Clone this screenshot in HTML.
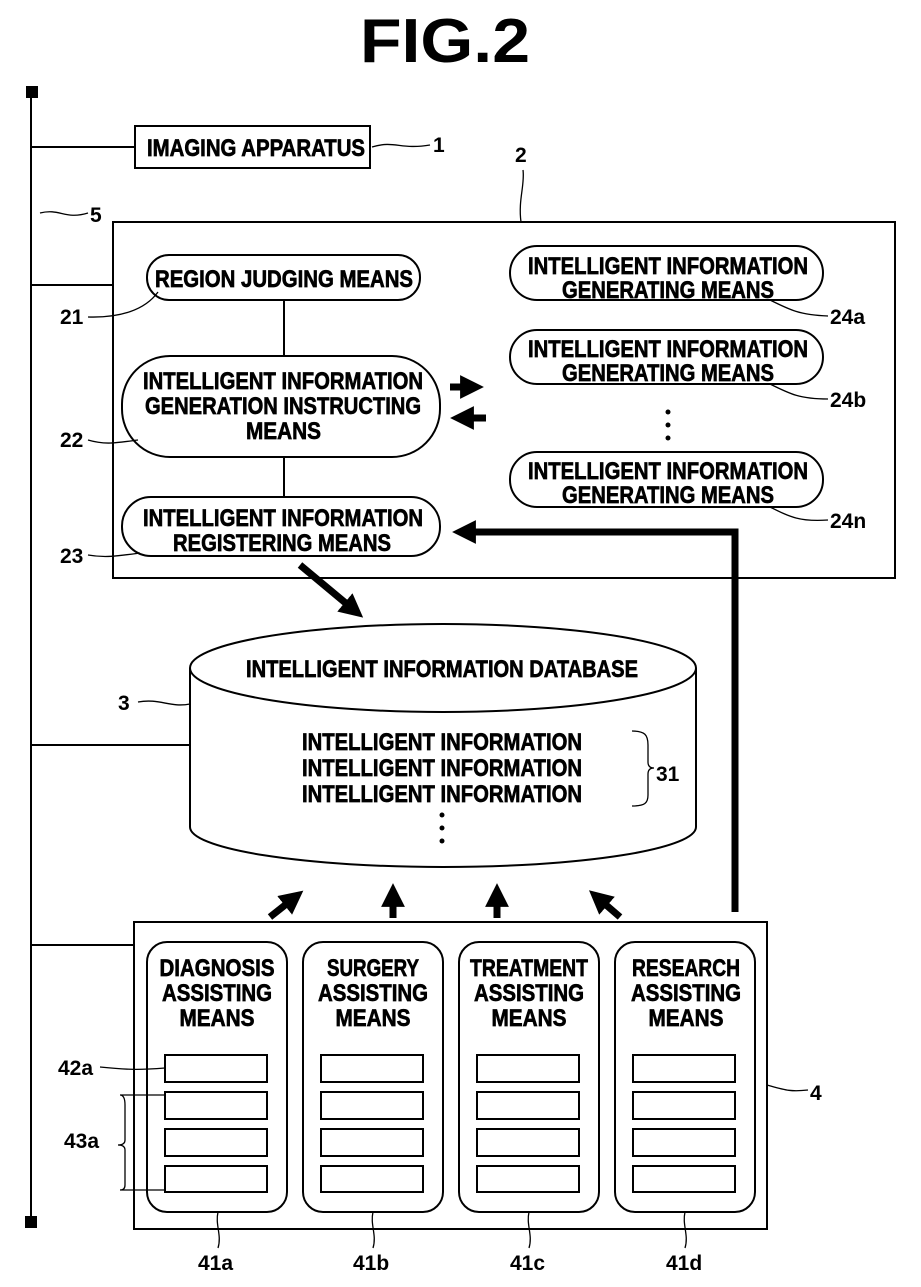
<!DOCTYPE html>
<html><head><meta charset="utf-8"><style>
html,body{margin:0;padding:0;background:#fff;}
svg{display:block;}
text{font-family:"Liberation Sans",sans-serif;font-weight:bold;fill:#000;}
.t text{font-size:24px;stroke:#000;stroke-width:0.7px;}
.n{font-size:21px;}
</style></head><body>
<svg width="921" height="1287" viewBox="0 0 921 1287" xmlns="http://www.w3.org/2000/svg">
<defs>
<marker id="ah" markerWidth="3.4" markerHeight="3.4" refX="1.7" refY="1.7" orient="auto" markerUnits="strokeWidth"><path d="M0,0 L3.4,1.7 L0,3.4 z" fill="#000"/></marker>
</defs>
<text x="445" y="62" font-size="62" text-anchor="middle" textLength="170" lengthAdjust="spacingAndGlyphs">FIG.2</text>
<g fill="none" stroke="#000" stroke-width="2">
<line x1="31" y1="92" x2="31" y2="1222"/>
<line x1="31" y1="147" x2="135" y2="147"/>
<line x1="31" y1="285" x2="113" y2="285"/>
<line x1="31" y1="745" x2="190" y2="745"/>
<line x1="31" y1="945" x2="134" y2="945"/>
<rect x="135" y="126" width="235" height="42"/>
<path d="M372,147 C395,140 400,150 430,145" stroke-width="1.3"/>
<path d="M40,213 C60,208 65,220 88,213" stroke-width="1.3"/>
<path d="M523,170 C525,185 518,200 521,222" stroke-width="1.3"/>
<rect x="113" y="222" width="782" height="356"/>
<rect x="147" y="255" width="273" height="45" rx="22"/>
<rect x="122" y="356" width="318" height="101" rx="48"/>
<rect x="122" y="497" width="318" height="59" rx="29"/>
<line x1="284" y1="300" x2="284" y2="356"/>
<line x1="284" y1="457" x2="284" y2="497"/>
<path d="M88,317 C120,318 145,310 158,292" stroke-width="1.3"/>
<path d="M88,440 C105,445 115,443 138,440" stroke-width="1.3"/>
<path d="M88,555 C105,558 118,556 140,553" stroke-width="1.3"/>
<rect x="510" y="246" width="313" height="54" rx="27"/>
<rect x="510" y="330" width="313" height="54" rx="27"/>
<rect x="510" y="452" width="313" height="55" rx="27"/>
<path d="M770,300 C790,310 800,315 828,316" stroke-width="1.3"/>
<path d="M770,384 C790,394 800,399 828,399" stroke-width="1.3"/>
<path d="M770,507 C790,517 800,522 828,520" stroke-width="1.3"/>
<path d="M190,668 L190,827 A253,40 0 0 0 696,827 L696,668"/>
<ellipse cx="443" cy="668" rx="253" ry="44"/>
<path d="M138,702 C160,698 170,708 190,704" stroke-width="1.3"/>
<path d="M632,731 C645,731 648,735 648,745 L648,762 Q648,768 654,768 Q648,768 648,774 L648,795 C648,803 645,806 632,806" stroke-width="1.3"/>
<rect x="134" y="922" width="633" height="307"/>
<path d="M767,1085 C785,1090 790,1092 808,1090" stroke-width="1.3"/>
<path d="M100,1067 C130,1070 140,1070 165,1068" stroke-width="1.3"/>
<path d="M120,1095 L165,1095 M120,1095 Q125,1095 125,1105 L125,1140 Q125,1145 118,1145 Q125,1145 125,1150 L125,1185 Q125,1190 120,1190 L165,1190" stroke-width="1.3"/>
</g>
<g fill="none" stroke="#000" stroke-width="2">
<rect x="147" y="942" width="140" height="270" rx="20"/>
<rect x="303" y="942" width="140" height="270" rx="20"/>
<rect x="459" y="942" width="140" height="270" rx="20"/>
<rect x="615" y="942" width="140" height="270" rx="20"/>
<g id="sb">
<rect x="165" y="1055" width="102" height="27"/>
<rect x="165" y="1092" width="102" height="27"/>
<rect x="165" y="1129" width="102" height="27"/>
<rect x="165" y="1166" width="102" height="26"/>
</g>
<use href="#sb" x="156"/>
<use href="#sb" x="312"/>
<use href="#sb" x="468"/>
<path d="M218,1212 C215,1225 222,1235 218,1248" stroke-width="1.3"/>
<path d="M373,1212 C370,1225 377,1235 373,1248" stroke-width="1.3"/>
<path d="M529,1212 C526,1225 533,1235 529,1248" stroke-width="1.3"/>
<path d="M685,1212 C682,1225 689,1235 685,1248" stroke-width="1.3"/>
</g>
<rect x="26" y="86" width="12" height="12" fill="#000"/>
<rect x="25" y="1216" width="12" height="12" fill="#000"/>
<g stroke="#000" stroke-width="7" fill="none" marker-end="url(#ah)">
<line x1="450" y1="387" x2="472" y2="387"/>
<line x1="486" y1="418" x2="462" y2="418"/>
<polyline points="735,912 735,532 464,532"/>
<line x1="300" y1="565" x2="354" y2="610"/>
<line x1="270" y1="917" x2="294" y2="898"/>
<line x1="393" y1="918" x2="393" y2="895"/>
<line x1="497" y1="918" x2="497" y2="895"/>
<line x1="620" y1="917" x2="598" y2="898"/>
</g>
<g fill="#000">
<circle cx="668" cy="412" r="2.5"/><circle cx="668" cy="425" r="2.5"/><circle cx="668" cy="438" r="2.5"/>
<circle cx="442" cy="815" r="2.5"/><circle cx="442" cy="828" r="2.5"/><circle cx="442" cy="841" r="2.5"/>
</g>
<g class="t">
<text x="147" y="156" textLength="218" lengthAdjust="spacingAndGlyphs">IMAGING APPARATUS</text>
<text x="155" y="287" textLength="258" lengthAdjust="spacingAndGlyphs">REGION JUDGING MEANS</text>
<text x="143" y="389" textLength="280" lengthAdjust="spacingAndGlyphs">INTELLIGENT INFORMATION</text>
<text x="145" y="414" textLength="276" lengthAdjust="spacingAndGlyphs">GENERATION INSTRUCTING</text>
<text x="246" y="439" textLength="75" lengthAdjust="spacingAndGlyphs">MEANS</text>
<text x="143" y="526" textLength="280" lengthAdjust="spacingAndGlyphs">INTELLIGENT INFORMATION</text>
<text x="173" y="551" textLength="218" lengthAdjust="spacingAndGlyphs">REGISTERING MEANS</text>
<text x="528" y="274" textLength="280" lengthAdjust="spacingAndGlyphs">INTELLIGENT INFORMATION</text>
<text x="562" y="298" textLength="212" lengthAdjust="spacingAndGlyphs">GENERATING MEANS</text>
<text x="528" y="357" textLength="280" lengthAdjust="spacingAndGlyphs">INTELLIGENT INFORMATION</text>
<text x="562" y="381" textLength="212" lengthAdjust="spacingAndGlyphs">GENERATING MEANS</text>
<text x="528" y="479" textLength="280" lengthAdjust="spacingAndGlyphs">INTELLIGENT INFORMATION</text>
<text x="562" y="503" textLength="212" lengthAdjust="spacingAndGlyphs">GENERATING MEANS</text>
<text x="246" y="677" textLength="392" lengthAdjust="spacingAndGlyphs">INTELLIGENT INFORMATION DATABASE</text>
<text x="302" y="750" textLength="280" lengthAdjust="spacingAndGlyphs">INTELLIGENT INFORMATION</text>
<text x="302" y="776" textLength="280" lengthAdjust="spacingAndGlyphs">INTELLIGENT INFORMATION</text>
<text x="302" y="802" textLength="280" lengthAdjust="spacingAndGlyphs">INTELLIGENT INFORMATION</text>
</g>
<g class="t" text-anchor="middle">
<text x="217" y="976" textLength="115" lengthAdjust="spacingAndGlyphs">DIAGNOSIS</text>
<text x="217" y="1001" textLength="110" lengthAdjust="spacingAndGlyphs">ASSISTING</text>
<text x="217" y="1026" textLength="75" lengthAdjust="spacingAndGlyphs">MEANS</text>
<text x="373" y="976" textLength="92" lengthAdjust="spacingAndGlyphs">SURGERY</text>
<text x="373" y="1001" textLength="110" lengthAdjust="spacingAndGlyphs">ASSISTING</text>
<text x="373" y="1026" textLength="75" lengthAdjust="spacingAndGlyphs">MEANS</text>
<text x="529" y="976" textLength="118" lengthAdjust="spacingAndGlyphs">TREATMENT</text>
<text x="529" y="1001" textLength="110" lengthAdjust="spacingAndGlyphs">ASSISTING</text>
<text x="529" y="1026" textLength="75" lengthAdjust="spacingAndGlyphs">MEANS</text>
<text x="686" y="976" textLength="108" lengthAdjust="spacingAndGlyphs">RESEARCH</text>
<text x="686" y="1001" textLength="110" lengthAdjust="spacingAndGlyphs">ASSISTING</text>
<text x="686" y="1026" textLength="75" lengthAdjust="spacingAndGlyphs">MEANS</text>
</g>
<g class="n">
<text x="433" y="152">1</text>
<text x="515" y="162">2</text>
<text x="90" y="222">5</text>
<text x="60" y="324">21</text>
<text x="60" y="447">22</text>
<text x="60" y="563">23</text>
<text x="830" y="324">24a</text>
<text x="830" y="407">24b</text>
<text x="830" y="528">24n</text>
<text x="118" y="710">3</text>
<text x="656" y="781">31</text>
<text x="810" y="1100">4</text>
<text x="58" y="1075">42a</text>
<text x="64" y="1148">43a</text>
<text x="198" y="1270">41a</text>
<text x="353" y="1270">41b</text>
<text x="510" y="1270">41c</text>
<text x="666" y="1270">41d</text>
</g>
</svg>
</body></html>
